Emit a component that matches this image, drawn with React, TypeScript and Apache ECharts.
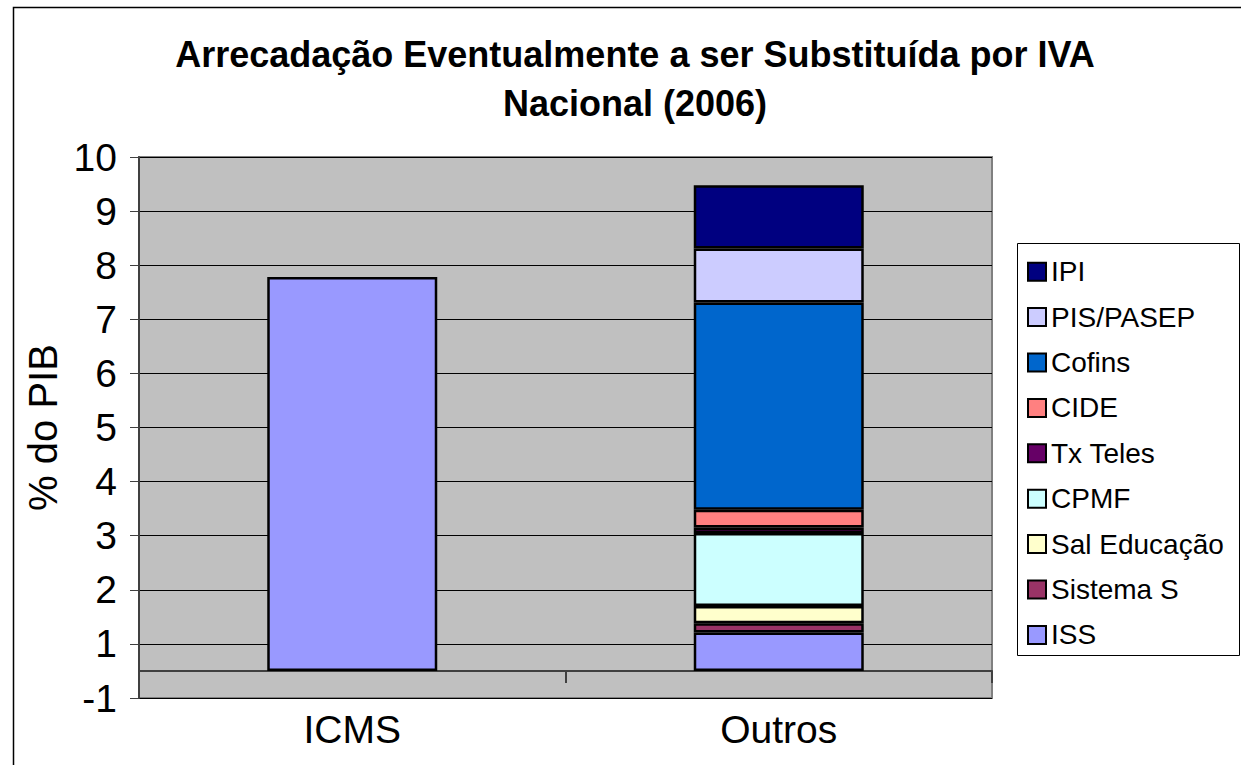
import React, { useEffect, useRef } from "react";
import * as echarts from "echarts";

const categories = ["ICMS", "Outros"];
const baseOffset = [0.5, 0.5];
const seriesNames = ["ISS", "Sistema S", "Sal Educação", "CPMF", "Tx Teles", "CIDE", "Cofins", "PIS/PASEP", "IPI"];
const seriesColors = ["#9999FF", "#993366", "#FFFFCC", "#CCFFFF", "#660066", "#FF8080", "#0066CC", "#CCCCFF", "#000080"];
const issValues = [7.28, 0.71];
const sistemaSValues = [null, 0.17];
const salEducacaoValues = [null, 0.32];
const cpmfValues = [null, 1.35];
const txTelesValues = [null, 0.1];
const cideValues = [null, 0.33];
const cofinsValues = [null, 3.83];
const pisPasepValues = [null, 1.0];
const ipiValues = [null, 1.17];
const seriesValues = [issValues, sistemaSValues, salEducacaoValues, cpmfValues, txTelesValues, cideValues, cofinsValues, pisPasepValues, ipiValues];
const legendOrder = ["IPI", "PIS/PASEP", "Cofins", "CIDE", "Tx Teles", "CPMF", "Sal Educação", "Sistema S", "ISS"];
const titleLines = ["Arrecadação Eventualmente a ser Substituída por IVA", "Nacional (2006)"];
const yAxisTitle = "% do PIB";

const FONT = "'Liberation Sans', Arial, sans-serif";

export default function App() {
  const ref = useRef<HTMLDivElement>(null);
  useEffect(() => {
    document.body.style.margin = "0";
    const chart = echarts.init(ref.current!, null, { renderer: "svg" });
    const series: any[] = [
      {
        name: "__base",
        type: "bar",
        stack: "total",
        data: baseOffset,
        barWidth: 170,
        silent: true,
        itemStyle: { color: "rgba(0,0,0,0)", borderWidth: 0 },
      },
      ...seriesNames.map((name, i) => ({
        name,
        type: "bar",
        stack: "total",
        barWidth: 170,
        data: seriesValues[i].map((v) => (v === null ? "-" : v)),
        itemStyle: { color: seriesColors[i], borderColor: "#000", borderWidth: 2.5 },
      })),
    ];
    chart.setOption({
      animation: false,
      textStyle: { fontFamily: FONT },
      grid: {
        left: 139,
        top: 157,
        width: 853,
        height: 541,
        show: true,
        backgroundColor: "#C0C0C0",
        borderColor: "#808080",
        borderWidth: 2,
      },
      xAxis: {
        type: "category",
        data: categories,
        offset: -27,
        axisLine: { show: true, lineStyle: { color: "#404040", width: 2 } },
        axisTick: { show: true, length: 12, lineStyle: { color: "#404040", width: 2 } },
        axisLabel: { fontSize: 39, color: "#000", fontFamily: FONT, margin: 58, verticalAlign: "middle" },
      },
      yAxis: {
        type: "value",
        min: 0,
        max: 10,
        interval: 1,
        axisLine: { show: true, lineStyle: { color: "#404040", width: 2 } },
        axisTick: { show: true, length: 9, lineStyle: { color: "#404040", width: 1 } },
        splitLine: { show: true, lineStyle: { color: "#000", width: 1 } },
        axisLabel: {
          fontSize: 39,
          color: "#000",
          fontFamily: FONT,
          margin: 22,
          formatter: (v: number) => (v === 0 ? "-1" : String(v)),
        },
        name: yAxisTitle,
        nameLocation: "middle",
        nameRotate: 90,
        nameGap: 74,
        nameTextStyle: { fontSize: 40, color: "#000", fontFamily: FONT },
      },
      legend: {
        data: legendOrder,
        orient: "vertical",
        left: 1027,
        top: 257.7,
        padding: 0,
        itemGap: 17.4,
        itemWidth: 18,
        itemHeight: 18,
        icon: "rect",
        z: 10,
        itemStyle: { borderColor: "#000", borderWidth: 2 },
        textStyle: { fontSize: 28, lineHeight: 28, color: "#000", fontFamily: FONT },
      },
      graphic: [
        {
          type: "rect",
          z: 0,
          silent: true,
          shape: { x: 13.5, y: 7.5, width: 1300, height: 800 },
          style: { fill: "none", stroke: "#000", lineWidth: 1.5 },
        },
        {
          type: "rect",
          z: 1,
          silent: true,
          shape: { x: 1017.5, y: 243.5, width: 222, height: 412 },
          style: { fill: "#fff", stroke: "#000", lineWidth: 1 },
        },
        {
          type: "text",
          x: 635,
          y: 54,
          silent: true,
          style: {
            text: titleLines[0],
            fontSize: 36,
            fontWeight: "bold",
            fontFamily: FONT,
            fill: "#000",
            textAlign: "center",
            textVerticalAlign: "middle",
          },
        },
        {
          type: "text",
          x: 635,
          y: 103,
          silent: true,
          style: {
            text: titleLines[1],
            fontSize: 36,
            fontWeight: "bold",
            fontFamily: FONT,
            fill: "#000",
            textAlign: "center",
            textVerticalAlign: "middle",
          },
        },
      ],
      series,
    });
    return () => chart.dispose();
  }, []);
  return <div ref={ref} style={{ width: 1241, height: 765 }} />;
}
